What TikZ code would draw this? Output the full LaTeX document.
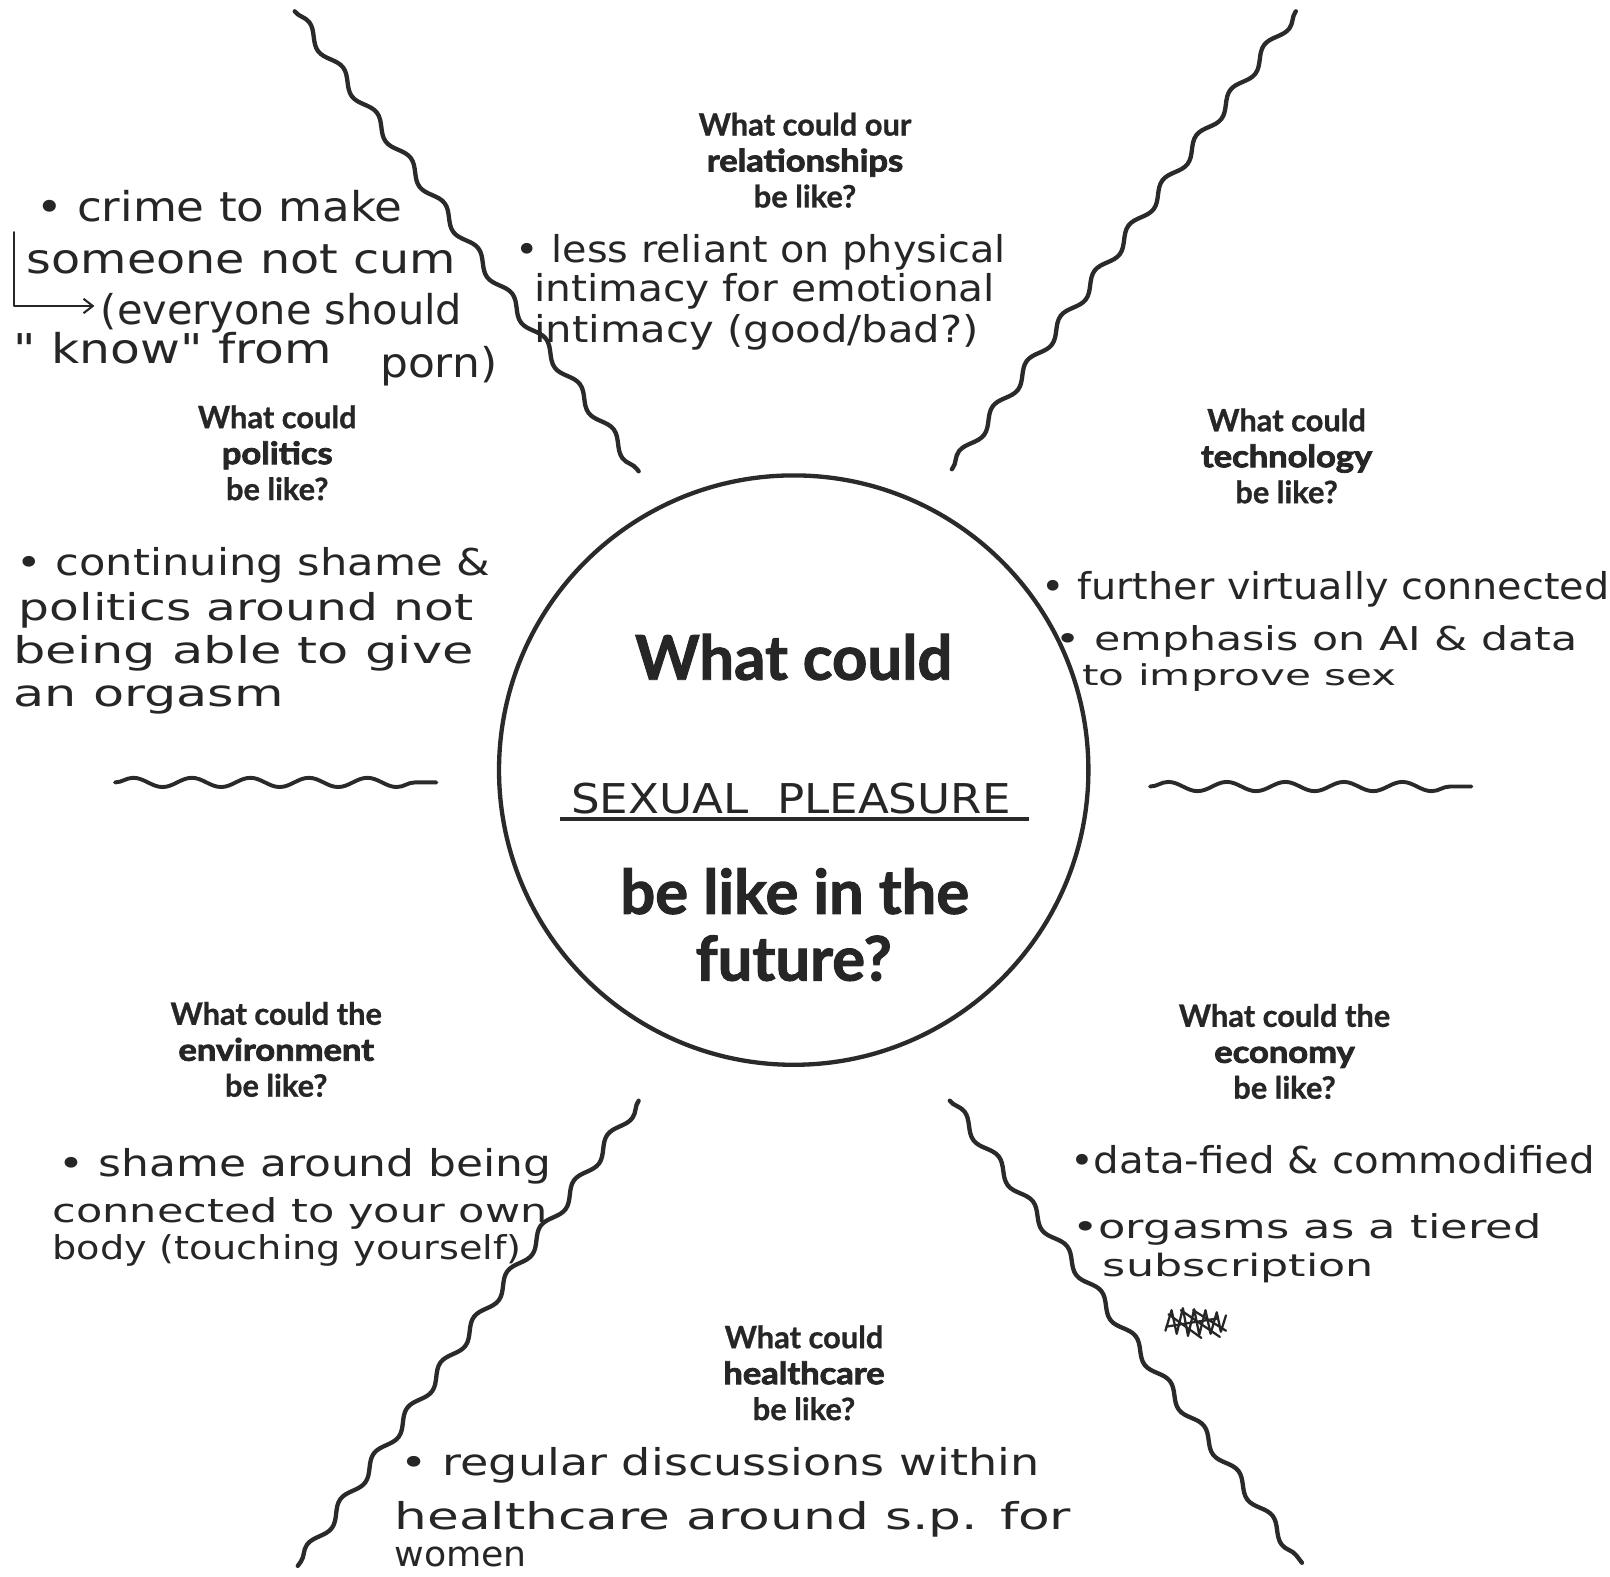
\documentclass[tikz,border=0pt]{standalone}
\usepackage{fontspec}
\usepackage{graphicx}
\setmainfont{Lato}
\newfontfamily\headfont{Lato}[BoldFeatures={FakeBold=0.9}]
\newfontfamily\heavyfont{Lato}[BoldFeatures={FakeBold=2.6}]
\newfontfamily\mainfont{Lato}[BoldFeatures={FakeBold=1.6}]
\newfontfamily\handfont{DejaVu Sans}
\usetikzlibrary{decorations.pathmorphing,arrows.meta}
\definecolor{ink}{HTML}{262626}
\definecolor{headc}{HTML}{262626}
\definecolor{linec}{HTML}{2A2A2A}
\newcommand\hw[2]{\resizebox{#1pt}{\height}{#2}}
\newcommand\kw[1]{\scalebox{1.12}[1]{\heavyfont\bfseries #1}}
\begin{document}
\begin{tikzpicture}[x=1pt,y=-1pt,
  wave/.style={draw=linec, line width=4.2pt, line cap=round, decorate,
    decoration={snake, segment length=55pt, amplitude=5pt}},
  hwave/.style={draw=linec, line width=3.8pt, line cap=round, decorate,
    decoration={snake, segment length=57pt, amplitude=4.5pt}},
  head/.style={font=\headfont\bfseries\fontsize{30}{35}\selectfont, align=center, text=headc, inner sep=0},
  mainq/.style={font=\mainfont\bfseries\fontsize{60}{66}\selectfont, text=headc, anchor=base, inner sep=0},
  hand/.style={font=\handfont\fontsize{36}{40}\selectfont, text=ink, anchor=base west, inner sep=0},
  bighand/.style={hand, font=\handfont\fontsize{40}{44}\selectfont},
  smallhand/.style={hand, font=\handfont\fontsize{32}{36}\selectfont},
  scrib/.style={ink, line width=2.2pt, line join=round, line cap=round},
]
\useasboundingbox[fill=white] (0,0) rectangle (1568,1535);

% ---------- wavy dividers ----------
\coordinate (tlA) at (287,11);   \coordinate (tlB) at (622,459);
\coordinate (trA) at (1262,11);  \coordinate (trB) at (927,457);
\coordinate (blA) at (622,1072); \coordinate (blB) at (290,1525);
\coordinate (brA) at (925,1072); \coordinate (brB) at (1268,1522);
\coordinate (hlA) at (112,762);  \coordinate (hlB) at (425,762);
\coordinate (hrA) at (1120,766); \coordinate (hrB) at (1433,766);
\draw[wave] (tlA) -- (tlB);
\draw[wave] (trA) -- (trB);
\draw[wave] (blA) -- (blB);
\draw[wave] (brA) -- (brB);
\draw[hwave] (hlA) -- (hlB);
\draw[hwave] (hrA) -- (hrB);

% ---------- central circle ----------
\node[draw=linec, circle, line width=4.2pt, minimum size=574pt, inner sep=0] (ctr) at (773,750) {};
\node[mainq] (m1) at (773,662) {What could};
\node[mainq] (m2) at (774,890) {be like in the};
\node[mainq] (m3) at (773,955) {future?};
\node[hand, font=\handfont\fontsize{40}{44}\selectfont] (sp) at (556,792) {\hw{428}{SEXUAL\ \ PLEASURE}};
\coordinate (ulA) at (545,798); \coordinate (ulB) at (1002,798);
\draw[linec, line width=4pt] (ulA) -- (ulB);

% ---------- headings ----------
\node[head] (hrel)  at (784,156)  {What could our\\\kw{relationships}\\be like?};
\node[head] (hpol)  at (270,441)  {What could\\\kw{politics}\\be like?};
\node[head] (htech) at (1253,444) {What could\\\kw{technology}\\be like?};
\node[head] (henv)  at (269,1022) {What could the\\\kw{environment}\\be like?};
\node[head] (heco)  at (1251,1024){What could the\\\kw{economy}\\be like?};
\node[head] (hhea)  at (783,1337) {What could\\\kw{healthcare}\\be like?};

% ---------- handwritten notes: politics (top) ----------
\node[bighand] (pt1) at (35,216)  {\hw{357}{• crime to make}};
\node[bighand] (pt2) at (26,266)  {\hw{418}{someone not cum}};
\node[bighand] (pt3) at (98,316)  {\hw{352}{(everyone should}};
\node[bighand] (pt4) at (13,354)  {\hw{310}{" know" from}};
\node[bighand] (pt5) at (370,368) {\hw{114}{porn)}};
\coordinate (arA) at (14,226); \coordinate (arB) at (14,298); \coordinate (arC) at (92,298);
\draw[ink, line width=2pt, line cap=round, line join=round,
      -{Straight Barb[length=9pt,width=14pt]}] (arA) -- (arB) -- (arC);

% ---------- relationships ----------
\node[hand] (r1) at (502,256) {\hw{477}{• less reliant on physical}};
\node[hand] (r2) at (520,294) {\hw{449}{intimacy for emotional}};
\node[hand] (r3) at (520,334) {\hw{433}{intimacy (good/bad?)}};

% ---------- politics ----------
\node[hand] (p1) at (16,560) {\hw{461}{• continuing shame \&}};
\node[hand] (p2) at (18,604) {\hw{443}{politics around not}};
\node[hand] (p3) at (13,646) {\hw{448}{being able to give}};
\node[hand] (p4) at (13,688) {\hw{263}{an orgasm}};

% ---------- technology ----------
\node[hand] (t1) at (1014,584) {\hw{553}{• further virtually connected}};
\node[smallhand] (t2) at (1028,634) {\hw{508}{• emphasis on AI \& data}};
\node[hand, font=\handfont\fontsize{28}{32}\selectfont] (t3) at (1054,668) {\hw{306}{to improve sex}};

% ---------- environment ----------
\node[hand] (e1) at (57,1146) {\hw{480}{• shame around being}};
\node[smallhand] (e2) at (51,1191) {\hw{482}{connected to your own}};
\node[smallhand] (e3) at (51,1227) {\hw{457}{body (touching yourself)}};

% ---------- economy ----------
\node[hand] (c1) at (1042,1143) {\hw{511}{•data-fied \& commodified}};
\node[smallhand] (c2) at (1044,1206) {\hw{457}{•orgasms as a tiered}};
\node[hand, font=\handfont\fontsize{30}{34}\selectfont] (c3) at (1074,1243) {\hw{264}{subscription}};
\draw[scrib]
  (1135,1296) -- (1141,1276) -- (1146,1299) -- (1152,1274) -- (1157,1301)
  -- (1163,1275) -- (1168,1300) -- (1174,1276) -- (1179,1299) -- (1185,1278)
  -- (1189,1297) -- (1194,1281);
\draw[scrib] (1138,1280) -- (1170,1303) (1150,1276) -- (1188,1302)
  (1162,1276) -- (1194,1296) (1136,1292) -- (1186,1284);

% ---------- healthcare ----------
\node[hand] (h1) at (390,1437) {\hw{622}{• regular discussions within}};
\node[hand] (h2) at (384,1490) {\hw{659}{healthcare around s.p. for}};
\node[hand, font=\handfont\fontsize{34}{38}\selectfont] (h3) at (384,1526) {\hw{129}{women}};
\end{tikzpicture}
\end{document}
